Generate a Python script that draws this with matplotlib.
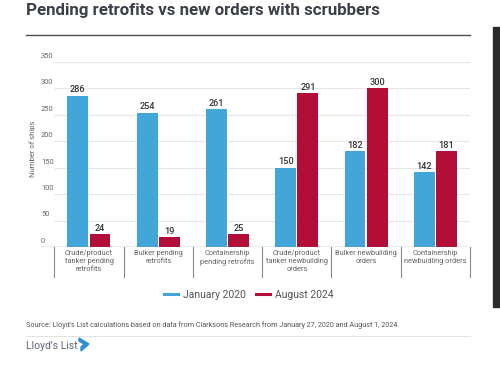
import matplotlib
matplotlib.use("Agg")
import matplotlib.pyplot as plt
import matplotlib.transforms as mtransforms
from matplotlib.lines import Line2D
from matplotlib.patches import Rectangle, Polygon
import numpy as np

plt.rcParams['font.family'] = ['Roboto', 'DejaVu Sans']

categories = [
    "Crude/product\ntanker pending\nretrofits",
    "Bulker pending\nretrofits",
    "Containership\npending retrofits",
    "Crude/product\ntanker newbuilding\norders",
    "Bulker newbuilding\norders",
    "Containership\nnewbuidling orders",
]
jan_2020 = [286, 254, 261, 150, 182, 142]
aug_2024 = [24, 19, 25, 291, 300, 181]
y_ticks = [0, 50, 100, 150, 200, 250, 300, 350]

blue = "#42a6d9"
red = "#b30e37"
grey_text = "#5f6368"

W, H = 500, 371
fig = plt.figure(figsize=(5, 3.71), dpi=100)

# plot area (pixel measurements from the reference)
left, right, top, bottom = 41, 470, 61.7, 247
ax = fig.add_axes([left / W, 1 - bottom / H, (right - left) / W, (bottom - top) / H])
ax.set_xlim(-0.5 - 13.3 / 69.3, 5.5)
ax.set_ylim(0, 350)
ax.axis("off")

x = np.arange(len(categories))
ax.hlines(y_ticks[1:], -0.5, 5.5, color="#e6e6e6", lw=0.8, zorder=0)
ax.axhline(0, color="#777777", lw=0.9, zorder=3)

ytrans = mtransforms.blended_transform_factory(ax.transAxes, ax.transData)
for t in y_ticks:
    ax.annotate(str(t), (0, t), xycoords=ytrans, xytext=(0, 1.5), textcoords="offset points",
                ha="left", va="bottom", fontsize=5.4, color="#666666")

w = 0.30
b1 = ax.bar(x - 0.16, jan_2020, w, color=blue, zorder=2)
b2 = ax.bar(x + 0.16, aug_2024, w, color=red, zorder=2)
for bars, vals in ((b1, jan_2020), (b2, aug_2024)):
    for r, v in zip(bars, vals):
        ax.annotate(str(v), (r.get_x() + r.get_width() / 2, v), xytext=(0, 0.8),
                    textcoords="offset points", ha="center", va="bottom",
                    fontsize=6.6, color="#333333", fontweight="medium")

# category separators and labels under the axis
xtrans = mtransforms.blended_transform_factory(ax.transData, ax.transAxes)
sep_depth = 30 / (bottom - top)
for s in np.arange(-0.5, 6, 1.0):
    ax.add_line(Line2D([s, s], [0, -sep_depth], transform=xtrans, color="#888888",
                       lw=0.8, clip_on=False))
for xi, lab in zip(x, categories):
    ax.text(xi, -0.018, lab, transform=xtrans, ha="center", va="top", fontsize=5.3,
            color=grey_text, linespacing=1.15)

fig.text(33 / W, 1 - 149 / H, "Number of ships", rotation=90, ha="center", va="center",
         fontsize=5.5, color=grey_text)

# title and rule
fig.text(26 / W, 1 - 11 / H, "Pending retrofits vs new orders with scrubbers",
         ha="left", va="center", fontsize=12.2, fontweight="bold", color="#3b3f48")
fig.add_artist(Line2D([26 / W, 470 / W], [1 - 35 / H] * 2, color="#4a4e57", lw=1.0))

# legend
handles = [Line2D([], [], color=blue, lw=2.2), Line2D([], [], color=red, lw=2.2)]
fig.legend(handles, ["January 2020", "August 2024"], loc="center",
           bbox_to_anchor=(249 / W, 1 - 295 / H), ncol=2, frameon=False, fontsize=7.5,
           handlelength=1.3, handletextpad=0.5, columnspacing=1.0, labelcolor="#555555")

# source and footer
fig.text(26 / W, 1 - 325 / H,
         "Source: Lloyd's List calculations based on data from Clarksons Research from "
         "January 27, 2020 and August 1, 2024.",
         ha="left", va="center", fontsize=5.2, color="#555555")
fig.add_artist(Line2D([26 / W, 470 / W], [1 - 336 / H] * 2, color="#e3e3e3", lw=0.8))
fig.text(26 / W, 1 - 346 / H, "Lloyd's List", ha="left", va="center", fontsize=7.5,
         color="#5b6477")
logo = [(79, 338), (89, 344), (81, 351), (81, 347), (84, 344), (79, 341)]
fig.add_artist(Polygon([(px / W, 1 - py / H) for px, py in logo], closed=True,
                       transform=fig.transFigure, color="#2f8fd0"))

# dark strip at right edge of the screenshot
fig.add_artist(Rectangle((493.3 / W, 1 - 306.7 / H), 6.7 / W, 280 / H,
                         transform=fig.transFigure, color="#2a2a2a"))

fig.savefig("out.png", dpi=100)
